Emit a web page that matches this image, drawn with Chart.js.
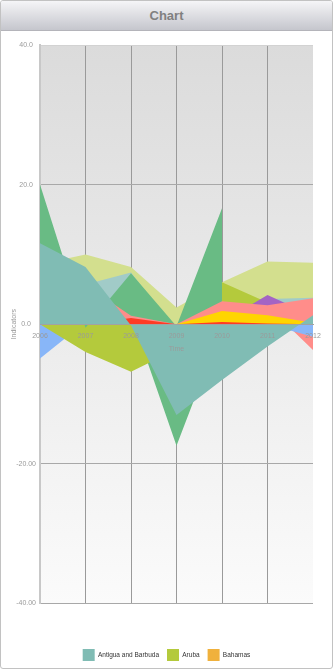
<!DOCTYPE html>
<html>
<head>
<meta charset="utf-8">
<script src="https://cdn.jsdelivr.net/npm/chart.js@4.4.1/dist/chart.umd.min.js"></script>
<style>
  html, body { margin: 0; padding: 0; background: #fff; }
  #frame { position: relative; width: 333px; height: 669px; box-sizing: border-box; border: 1px solid #c2c2c2; border-radius: 3px; overflow: hidden; }
  #bar { position: absolute; left: 0; top: 0; right: 0; height: 29px; text-align: center;
         background: linear-gradient(#f5f5f7, #c5c6cd); border-bottom: 1px solid #b4b4ba;
         font: bold 13px "Liberation Sans", Arial, sans-serif; line-height: 29px; color: #808080; z-index: 2; }
  canvas { position: absolute; left: -1px; top: -1px; }
</style>
</head>
<body>
<div id="frame">
  <div id="bar">Chart</div>
  <canvas id="chart" width="333" height="669"></canvas>
</div>
<script>
const FONT = '"Liberation Sans", Arial, Helvetica, sans-serif'

// years on the x axis
const years = ['2006', '2007', '2008', '2009', '2010', '2011', '2012']

// y tick texts as printed on the original
const yTickLabels = { '40': '40.0', '20': '20.0', '0': '0.0', '-20': '-20.00', '-40': '-40.00' }

// series values
const antiguaAndBarbuda = [11.6, 8.2, -0.2, -13.0, -8.0, -3.2, 1.3]
const aruba = [0, -4.0, -6.8, -3.6, 6.0, 3.1, 2.5]
const bahamas = [0.2, 0.3, 0.4, 0.1, 0.3, 0.4, 0.3]
const barbados = [0, 0, 0.9, 0, 0.3, 0.1, 0]
const belize = [0, 0, 0, 0, 1.9, 1.3, 0.2]
const bermuda = [0, 5.6, 1.2, 0, 3.3, 2.7, 3.7]
const cuba = [0, 0, 0, 0, 0.3, 4.2, 1.2]
const caymanIslands = [20.0, -0.5, 7.3, -0.3, 16.6, null, null]
const dominica = [-4.9, 0.3, 0, 0, 0, 0, -1.8]
const grenada = [0, 0, 0, 0, 1.0, 2.6, -3.7]
const guyana = [0, 0, 1.4, -17.4, -0.4, 0, 0]
const haiti = [0, 5.7, 7.4, -1.0, 1.5, 3.6, 3.8]
const jamaica = [8.6, 10.0, 8.2, 2.4, 6.0, 9.0, 8.8]

const legendNames = ['Antigua and Barbuda', 'Aruba', 'Bahamas']

function area(label, data, color, order) {
    return {
        label: label,
        data: data,
        backgroundColor: color,
        borderColor: color,
        borderWidth: 0,
        pointRadius: 0,
        fill: 'origin',
        tension: 0,
        order: order,
    }
}

const plotBackground = {
    id: 'plotBackground',
    beforeDraw(chart) {
        const { ctx, chartArea: a } = chart
        const g = ctx.createLinearGradient(0, a.top, 0, a.bottom)
        g.addColorStop(0, '#dbdbdb')
        g.addColorStop(1, '#fbfbfb')
        ctx.save()
        ctx.fillStyle = g
        ctx.fillRect(a.left, a.top, a.right - a.left, a.bottom - a.top)
        ctx.restore()
    }
}

const chart = new Chart(
    document.getElementById('chart'),
    {
        type: 'line',
        data: {
            labels: years,
            datasets: [
                area('Antigua and Barbuda', antiguaAndBarbuda, '#80bcb4', 0),
                area('Barbados', barbados, '#ff3b25', 1),
                area('Belize', belize, '#ffd500', 2),
                area('Bermuda', bermuda, '#ff8d8a', 3),
                area('Cuba', cuba, '#a464c4', 4),
                area('Cayman Islands', caymanIslands, '#69bb84', 5),
                area('Aruba', aruba, '#b4ca3c', 6),
                area('Dominica', dominica, '#88b6f8', 7),
                area('Grenada', grenada, '#ff8d8a', 8),
                area('Guyana', guyana, '#69bb84', 9),
                area('Haiti', haiti, '#a1cbc8', 10),
                area('Jamaica', jamaica, '#d3df8e', 11),
                area('Bahamas', bahamas, '#f0b13c', 12),
            ],
        },
        options: {
            responsive: false,
            animation: false,
            layout: {
                padding: { left: 0, right: 0, top: 45, bottom: -2 }
            },
            plugins: {
                legend: {
                    position: 'bottom',
                    title: {
                        display: true,
                        text: ' ',
                        padding: { top: 28, bottom: 0 },
                        font: { family: FONT, size: 8 },
                    },
                    labels: {
                        boxWidth: 12,
                        boxHeight: 12,
                        padding: 8,
                        color: '#333',
                        font: { family: FONT, size: 6.5 },
                        filter: item => legendNames.includes(item.text),
                    }
                },
                tooltip: { enabled: false },
            },
            scales: {
                x: {
                    type: 'category',
                    position: { y: 0 },
                    grid: {
                        drawTicks: false,
                        color: c => (c.index === 0 || c.index === years.length - 1) ? 'rgba(0,0,0,0)' : '#9a9a9a',
                    },
                    border: { color: '#a2a2a2', z: 1 },
                    ticks: {
                        z: 1,
                        padding: 8,
                        maxRotation: 0,
                        autoSkip: false,
                        color: '#9a9a9a',
                        font: { family: FONT, size: 7 },
                    },
                    afterFit: s => { s.height = 0 },
                },
                x2: {
                    type: 'category',
                    position: { y: 0 },
                    grid: { display: false, z: 1 },
                    border: { display: false },
                    ticks: { display: false },
                    title: {
                        display: true,
                        text: 'Time',
                        color: '#9a9a9a',
                        padding: 0,
                        font: { family: FONT, size: 7 },
                    },
                    afterFit: s => { s.height = 29 },
                },
                y: {
                    min: -40,
                    max: 40,
                    grid: {
                        drawTicks: false,
                        color: c => c.tick && c.tick.value === 40 ? '#d2d2d2' : '#a8a8a8',
                    },
                    border: { color: '#c8c8c8', width: 2 },
                    ticks: {
                        stepSize: 20,
                        crossAlign: 'center',
                        padding: 4,
                        color: '#9a9a9a',
                        font: { family: FONT, size: 7 },
                        callback: v => yTickLabels[String(v)],
                    },
                    title: {
                        display: true,
                        text: 'Indicators',
                        color: '#9a9a9a',
                        padding: { top: 10, bottom: 0 },
                        font: { family: FONT, size: 7 },
                    },
                    afterFit: s => { s.width = 40 },
                },
                yRight: {
                    position: 'right',
                    min: -40,
                    max: 40,
                    grid: { display: false },
                    border: { display: false },
                    ticks: { display: false },
                    afterFit: s => { s.width = 20 },
                },
            },
        },
        plugins: [plotBackground],
    }
)
</script>
</body>
</html>
